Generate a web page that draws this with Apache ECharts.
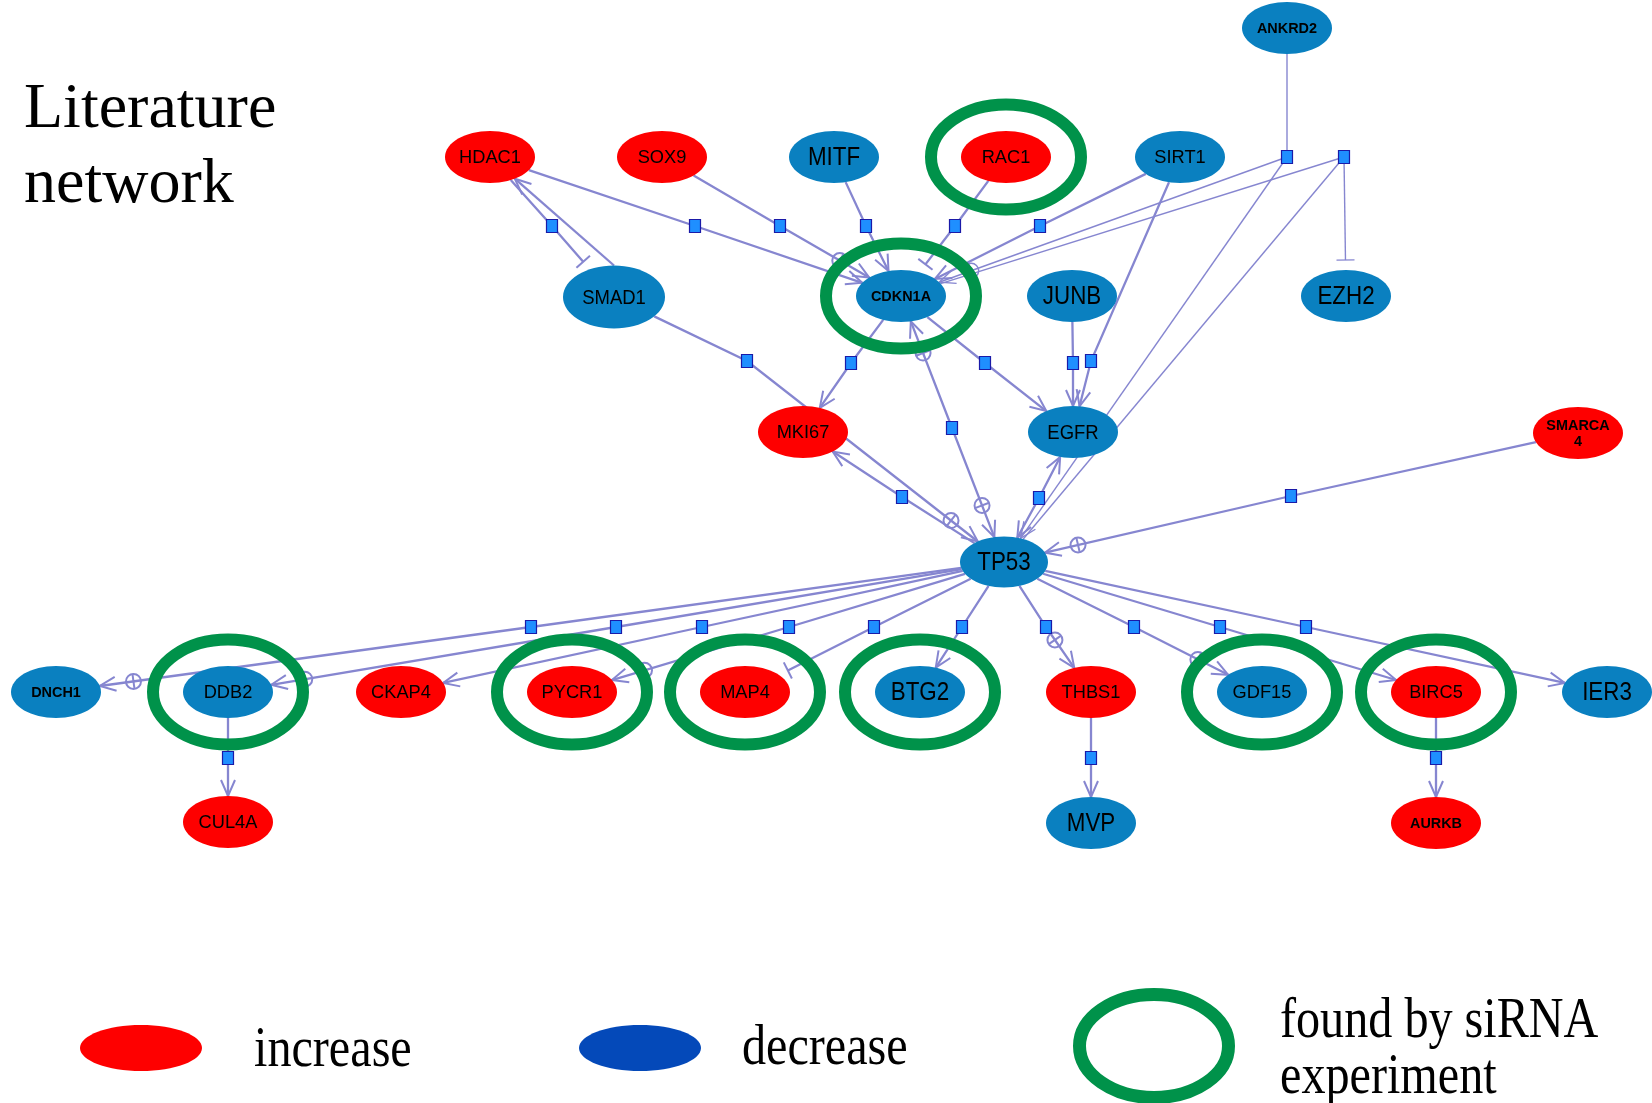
<!DOCTYPE html>
<html>
<head>
<meta charset="utf-8">
<script src="https://cdn.jsdelivr.net/npm/echarts@6/dist/echarts.min.js"></script>
<style>
  html, body { margin: 0; padding: 0; background: #ffffff; }
  #chart { width: 1652px; height: 1103px; }
</style>
</head>
<body>
<div id="chart"></div>
<script>
// ---- Genes of the literature network ----
const geneNames = ['ANKRD2','HDAC1','SOX9','MITF','RAC1','SIRT1','SMAD1','CDKN1A','JUNB','EZH2',
  'MKI67','EGFR','SMARCA4','TP53','DNCH1','DDB2','CKAP4','PYCR1','MAP4','BTG2',
  'THBS1','GDF15','BIRC5','IER3','CUL4A','MVP','AURKB'];
// layout of the network (node centres)
const geneX = [1287,490,662,834,1006,1180,614,901,1072,1346,
  803,1073,1578,1004,56,228,401,572,745,920,
  1091,1262,1436,1607,228,1091,1436];
const geneY = [28,157,157,157,157,157,297,296,296,296,
  432,432,433,562,692,692,692,692,692,692,
  692,692,692,692,822,823,823];
// direction of change of each gene
const geneChange = ['decrease','increase','increase','decrease','increase','decrease','decrease','decrease','decrease','decrease',
  'increase','decrease','increase','decrease','decrease','decrease','increase','increase','increase','decrease',
  'increase','decrease','increase','decrease','increase','decrease','increase'];
// genes also found by the siRNA experiment
const siRNAGenes = ['RAC1','CDKN1A','DDB2','PYCR1','MAP4','BTG2','GDF15','BIRC5'];

// ---- Relation nodes (small squares) ----
const hubNames = ['q1','q2','q3','q4','q5','q6','q7','q8','q9','q10',
  'q11','q12','q13','q14','q15','q16','q17','q18','q19','q20',
  'q21','q22','q23','q24','q25','q26','q27','q28','q29','q30'];
const hubX = [552,695,780,866,955,1040,1287,1344,747,851,
  985,1073,1091,952,902,1039,1291,531,616,702,
  789,874,962,1046,1134,1220,1306,228,1091,1436];
const hubY = [226,226,226,226,226,226,157,157,361,363,
  363,363,361,428,497,498,496,627,627,627,
  627,627,627,627,627,627,627,758,758,758];

// ---- Relations: [path, mark at end, mark at start, weight] ----
// marks: 'arrow' activation, 'tee' inhibition, '+' suffix adds a positive-effect sign
const relations = [
  [['HDAC1','q1','SMAD1'], 'tee'],
  [['SMAD1@n','HDAC1'], 'arrow'],
  [['HDAC1','q2','CDKN1A'], 'arrow'],
  [['SOX9','q3','CDKN1A'], 'arrow+'],
  [['MITF','q4','CDKN1A'], 'arrow'],
  [['RAC1','q5','CDKN1A'], 'tee'],
  [['SIRT1','q6','CDKN1A'], 'arrow'],
  [['ANKRD2','q7'], 'none', 'none', 'thin'],
  [['q7','CDKN1A'], 'arrow+', 'none', 'thin'],
  [['q7','TP53'], 'arrow', 'none', 'thin'],
  [['q8','CDKN1A'], 'none', 'none', 'thin'],
  [['q8','TP53'], 'none', 'none', 'thin'],
  [['q8','EZH2'], 'tee', 'none', 'thin'],
  [['SMAD1','q9','TP53'], 'arrow+'],
  [['CDKN1A','q10','MKI67'], 'arrow'],
  [['CDKN1A','q11','EGFR'], 'arrow'],
  [['JUNB','q12','EGFR'], 'arrow'],
  [['SIRT1','q13','EGFR'], 'arrow'],
  [['CDKN1A','q14','TP53'], 'arrow+', 'arrow+'],
  [['TP53','q15','MKI67'], 'arrow'],
  [['EGFR','q16','TP53'], 'arrow', 'arrow'],
  [['SMARCA4','q17','TP53'], 'arrow+'],
  [['TP53','q18','DNCH1'], 'arrow+'],
  [['TP53','q19','DDB2'], 'arrow+'],
  [['TP53','q20','CKAP4'], 'arrow'],
  [['TP53','q21','PYCR1'], 'arrow+'],
  [['TP53','q22','MAP4'], 'tee'],
  [['TP53','q23','BTG2'], 'arrow'],
  [['TP53','q24','THBS1'], 'arrow+'],
  [['TP53','q25','GDF15'], 'arrow+'],
  [['TP53','q26','BIRC5'], 'arrow'],
  [['TP53','q27','IER3'], 'arrow'],
  [['DDB2','q28','CUL4A'], 'arrow'],
  [['THBS1','q29','MVP'], 'arrow'],
  [['BIRC5','q30','AURKB'], 'arrow']
];

// ---- Styles ----
const COLOR = { increase: '#fe0000', decrease: '#0a80c0' };
const EDGE = '#8686d0';
const RING = '#00924a';
const SANS = '"Liberation Sans", Arial, sans-serif';
const SERIF = '"Liberation Serif", "Times New Roman", serif';
const LABEL = {
  big:   { font: '26px ' + SANS, sx: 0.86 },
  mid:   { font: '21px ' + SANS, sx: 0.88 },
  std:   { font: '19px ' + SANS, sx: 0.96 },
  small: { font: 'bold 14px ' + SANS, sx: 1.03 }
};
const labelKind = { MITF:'big', JUNB:'big', EZH2:'big', TP53:'big', BTG2:'big', IER3:'big', MVP:'big',
  SMAD1:'mid', EGFR:'mid', ANKRD2:'small', CDKN1A:'small', DNCH1:'small', AURKB:'small', SMARCA4:'small' };
const labelText = { SMARCA4: 'SMARCA\n4' };
const nodeSize = { SMAD1: [102, 63], TP53: [88, 51] };
const DEFAULT_SIZE = [90, 52];
const RING_SIZE = [150, 105];

const NODE = {};
geneNames.forEach(function (g, i) {
  const s = nodeSize[g] || DEFAULT_SIZE;
  NODE[g] = { x: geneX[i], y: geneY[i], w: s[0], h: s[1], gene: true };
});
hubNames.forEach(function (h, i) {
  NODE[h] = { x: hubX[i], y: hubY[i], gene: false };
});

// point where the segment from a node's centre towards p leaves the node
function exitPoint(n, p) {
  if (!n.gene || n.fixed) return n.c;
  const dx = p[0] - n.c[0], dy = p[1] - n.c[1];
  const s = 1 / Math.sqrt(Math.pow(dx / n.rx, 2) + Math.pow(dy / n.ry, 2));
  return [n.c[0] + dx * s, n.c[1] + dy * s];
}

function markShapes(type, tip, from, out, lineStyle) {
  const dx = tip[0] - from[0], dy = tip[1] - from[1];
  const L = Math.hypot(dx, dy) || 1;
  const ux = dx / L, uy = dy / L, nx = -uy, ny = ux;
  const at = function (back, side) { return [tip[0] - ux * back + nx * side, tip[1] - uy * back + ny * side]; };
  if (type.indexOf('arrow') === 0) {
    out.push({ type: 'polyline', shape: { points: [at(16, 7), tip, at(16, -7)] }, style: lineStyle });
  }
  if (type.indexOf('tee') === 0) {
    out.push({ type: 'line', shape: { x1: at(10, 9)[0], y1: at(10, 9)[1], x2: at(10, -9)[0], y2: at(10, -9)[1] }, style: lineStyle });
  }
  if (type.slice(-1) === '+') {
    const c = at(34, 0);
    out.push({ type: 'circle', shape: { cx: c[0], cy: c[1], r: 7.5 }, style: Object.assign({}, lineStyle, { fill: 'none' }) });
    out.push({ type: 'line', shape: { x1: at(34, 7.5)[0], y1: at(34, 7.5)[1], x2: at(34, -7.5)[0], y2: at(34, -7.5)[1] }, style: lineStyle });
  }
}

function renderRelation(params, api) {
  const rel = relations[api.value(2)];
  const endMark = rel[1] || 'none', startMark = rel[2] || 'none';
  const thin = rel[3] === 'thin';
  const nodes = rel[0].map(function (ref) {
    const parts = ref.split('@');
    const n = NODE[parts[0]];
    const c = api.coord([n.x, n.y]);
    const o = { c: c, rx: (n.w || 0) / 2, ry: (n.h || 0) / 2, gene: n.gene, fixed: false };
    if (parts[1] === 'n') { o.c = [c[0], c[1] - o.ry]; o.fixed = true; }
    return o;
  });
  const k = nodes.length - 1;
  const pts = nodes.map(function (n) { return n.c; });
  pts[0] = exitPoint(nodes[0], nodes[1].c);
  pts[k] = exitPoint(nodes[k], nodes[k - 1].c);
  const lineStyle = { stroke: EDGE, lineWidth: thin ? 1.4 : 2.3, fill: 'none' };
  const markStyle = { stroke: EDGE, lineWidth: thin ? 1.4 : 2, fill: 'none' };
  const children = [];
  const tipEnd = pts[k], tipStart = pts[0];
  const linePts = pts.slice();
  if (endMark.indexOf('tee') === 0) {
    const a = pts[k - 1], b = pts[k];
    const L = Math.hypot(b[0] - a[0], b[1] - a[1]);
    linePts[k] = [b[0] - (b[0] - a[0]) / L * 10, b[1] - (b[1] - a[1]) / L * 10];
  }
  children.push({ type: 'polyline', shape: { points: linePts }, style: lineStyle });
  if (endMark !== 'none') markShapes(endMark, tipEnd, pts[k - 1], children, markStyle);
  if (startMark !== 'none') markShapes(startMark, tipStart, pts[1], children, markStyle);
  return { type: 'group', children: children };
}

function renderHub(params, api) {
  const c = api.coord([api.value(0), api.value(1)]);
  return {
    type: 'rect',
    shape: { x: c[0] - 5.5, y: c[1] - 6.5, width: 11, height: 13 },
    style: { fill: '#1f8fff', stroke: '#1a1aa8', lineWidth: 1.2 }
  };
}

function renderGene(params, api) {
  const i = api.value(2);
  const name = geneNames[i];
  const n = NODE[name];
  const c = api.coord([api.value(0), api.value(1)]);
  const lab = LABEL[labelKind[name] || 'std'];
  return {
    type: 'group',
    children: [
      { type: 'ellipse', shape: { cx: c[0], cy: c[1], rx: n.w / 2, ry: n.h / 2 },
        style: { fill: COLOR[geneChange[i]] } },
      { type: 'text', x: c[0], y: c[1] + 1, scaleX: lab.sx,
        style: { text: labelText[name] || name, font: lab.font, fill: '#000000',
                 align: 'center', verticalAlign: 'middle', lineHeight: 16 } }
    ]
  };
}

function renderRing(params, api) {
  const c = api.coord([api.value(0), api.value(1)]);
  return {
    type: 'ellipse',
    shape: { cx: c[0], cy: c[1], rx: RING_SIZE[0] / 2, ry: RING_SIZE[1] / 2 },
    style: { fill: 'none', stroke: RING, lineWidth: 12 }
  };
}

const relationData = relations.map(function (r, i) { return [0, 0, i]; });
const hubData = hubNames.map(function (h, i) { return [hubX[i], hubY[i], i]; });
const geneData = geneNames.map(function (g, i) { return [geneX[i], geneY[i], i]; });
const ringData = siRNAGenes.map(function (g) { const n = NODE[g]; return [n.x, n.y]; });

const chart = echarts.init(document.getElementById('chart'), null, { renderer: 'canvas' });
chart.setOption({
  animation: false,
  backgroundColor: '#ffffff',
  grid: { left: 0, right: 0, top: 0, bottom: 0 },
  xAxis: { type: 'value', min: 0, max: 1652, show: false },
  yAxis: { type: 'value', min: 0, max: 1103, inverse: true, show: false },
  graphic: {
    elements: [
      { type: 'text', x: 24, y: 110, style: { text: 'Literature', font: '64px ' + SERIF, fill: '#000', verticalAlign: 'middle' } },
      { type: 'text', x: 24, y: 185, style: { text: 'network', font: '64px ' + SERIF, fill: '#000', verticalAlign: 'middle' } },
      { type: 'ellipse', shape: { cx: 141, cy: 1048, rx: 61, ry: 23 }, style: { fill: '#fe0000' } },
      { type: 'text', x: 254, y: 1051, scaleX: 0.86, style: { text: 'increase', font: '56px ' + SERIF, fill: '#000', verticalAlign: 'middle' } },
      { type: 'ellipse', shape: { cx: 640, cy: 1048, rx: 61, ry: 23 }, style: { fill: '#0449b9' } },
      { type: 'text', x: 742, y: 1049, scaleX: 0.86, style: { text: 'decrease', font: '56px ' + SERIF, fill: '#000', verticalAlign: 'middle' } },
      { type: 'ellipse', shape: { cx: 1154, cy: 1046, rx: 74.5, ry: 51.5 }, style: { fill: 'none', stroke: RING, lineWidth: 13 } },
      { type: 'text', x: 1280, y: 1022, scaleX: 0.86, style: { text: 'found by siRNA', font: '56px ' + SERIF, fill: '#000', verticalAlign: 'middle' } },
      { type: 'text', x: 1280, y: 1078, scaleX: 0.86, style: { text: 'experiment', font: '56px ' + SERIF, fill: '#000', verticalAlign: 'middle' } }
    ]
  },
  series: [
    { type: 'custom', name: 'relations', coordinateSystem: 'cartesian2d', z: 1, silent: true,
      encode: { x: 0, y: 1 }, data: relationData, renderItem: renderRelation },
    { type: 'custom', name: 'relation nodes', coordinateSystem: 'cartesian2d', z: 2, silent: true,
      encode: { x: 0, y: 1 }, data: hubData, renderItem: renderHub },
    { type: 'custom', name: 'genes', coordinateSystem: 'cartesian2d', z: 3, silent: true,
      encode: { x: 0, y: 1 }, data: geneData, renderItem: renderGene },
    { type: 'custom', name: 'found by siRNA experiment', coordinateSystem: 'cartesian2d', z: 4, silent: true,
      encode: { x: 0, y: 1 }, data: ringData, renderItem: renderRing }
  ]
});
</script>
</body>
</html>
